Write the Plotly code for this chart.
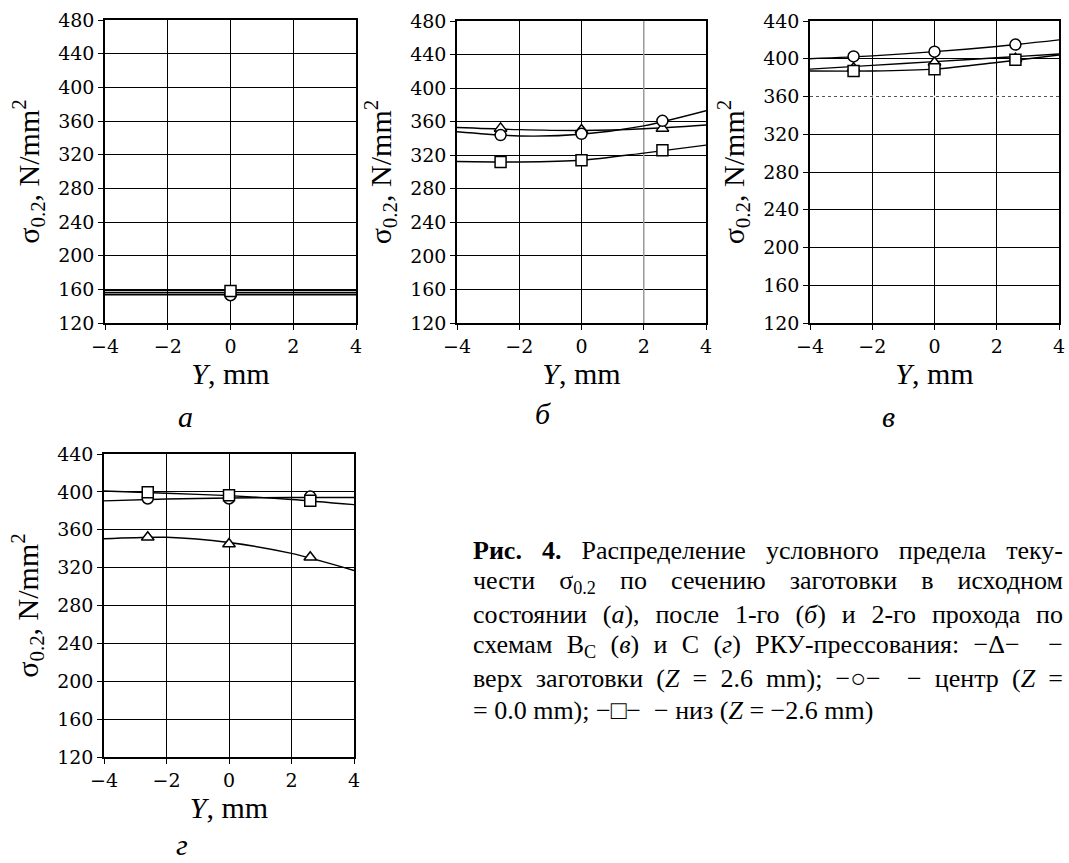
import plotly.graph_objects as go

W, H = 1069, 863

# ---- data ----
X_PTS = [-2.6, 0.0, 2.6]
X_LINE = [-4, -2, 0, 2, 4]

# panel а (initial state): only the centre section measured
a_x = [0.0]
a_top_pts = [156]
a_cen_pts = [153]
a_bot_pts = [158]
a_top_line = [156, 156, 156, 156, 156]
a_cen_line = [153.5, 153.5, 153.5, 153.5, 153.5]
a_bot_line = [158.5, 158.5, 158.5, 158.5, 158.5]

# panel б (1 pass)
b_top_pts = [352, 350, 352]
b_cen_pts = [344, 345.5, 361]
b_bot_pts = [312, 314, 326]
b_top_line = [353, 350.5, 349.5, 351.5, 356]
b_cen_line = [348, 343, 345, 355, 373]
b_bot_line = [312.5, 312, 314, 322.5, 332]

# panel в (2 passes, route Bc)
v_top_pts = [390, 396, 400]
v_cen_pts = [402.5, 407.5, 415]
v_bot_pts = [387, 389, 399]
v_top_line = [389, 393, 397, 401, 405]
v_cen_line = [400, 403, 407.5, 413, 420]
v_bot_line = [387, 387, 389, 396, 404]

# panel г (2 passes, route C)
g_top_pts = [352, 345, 331]
g_cen_pts = [393, 393, 395]
g_bot_pts = [399.5, 396.5, 390.5]
g_top_line = [350.5, 352, 346.5, 335, 317]
g_cen_line = [390.5, 392.5, 393.5, 394, 394]
g_bot_line = [401, 398.5, 396, 392, 386.5]

X_TICKS = [-4, -2, 0, 2, 4]
Y_TICKS_480 = [120, 160, 200, 240, 280, 320, 360, 400, 440, 480]
Y_TICKS_440 = [120, 160, 200, 240, 280, 320, 360, 400, 440]

FONT = "Liberation Serif, Times New Roman, serif"
TICKFONT = "DejaVu Serif, serif"

# panel boxes in pixels: (left, right, top, bottom)
boxes = {
    1: (105, 356, 20, 323),
    2: (457, 706, 21, 323),
    3: (810, 1059, 21, 323),
    4: (104, 354, 454, 757),
}

fig = go.Figure()

panels = [
    (1, a_x, a_top_pts, a_cen_pts, a_bot_pts, a_top_line, a_cen_line, a_bot_line),
    (2, X_PTS, b_top_pts, b_cen_pts, b_bot_pts, b_top_line, b_cen_line, b_bot_line),
    (3, X_PTS, v_top_pts, v_cen_pts, v_bot_pts, v_top_line, v_cen_line, v_bot_line),
    (4, X_PTS, g_top_pts, g_cen_pts, g_bot_pts, g_top_line, g_cen_line, g_bot_line),
]

symbols = ["triangle-up", "circle", "square"]

for (k, xp, tp, cp, bp, tl, cl, bl) in panels:
    xa = "x" if k == 1 else f"x{k}"
    ya = "y" if k == 1 else f"y{k}"
    for pts, line, sym in zip([tp, cp, bp], [tl, cl, bl], symbols):
        fig.add_trace(go.Scatter(
            x=X_LINE, y=line, mode="lines", xaxis=xa, yaxis=ya,
            line=dict(color="black", width=1.4, shape="spline", smoothing=0.8),
            showlegend=False, hoverinfo="skip"))
        fig.add_trace(go.Scatter(
            x=xp, y=pts, mode="markers", xaxis=xa, yaxis=ya,
            marker=dict(symbol=sym, size=11, color="white",
                        line=dict(color="black", width=1.5)),
            showlegend=False))

def xaxis_cfg(k):
    l, r, t, b = boxes[k]
    return dict(
        domain=[l / W, r / W], anchor=("y" if k == 1 else f"y{k}"),
        range=[-4, 4], tickvals=X_TICKS, showline=True, linecolor="black",
        linewidth=1.5, mirror=True, ticks="outside", ticklen=5, tickcolor="black",
        showgrid=True, gridcolor="black", gridwidth=1, zeroline=False,
        automargin=False,
        tickfont=dict(family=TICKFONT, size=19, color="black"),
        title=dict(text="<i>Y</i>, mm", font=dict(family=FONT, size=30, color="black"),
                   standoff=4),
        fixedrange=True,
    )

def yaxis_cfg(k, top):
    l, r, t, b = boxes[k]
    return dict(
        domain=[1 - b / H, 1 - t / H], anchor=("x" if k == 1 else f"x{k}"),
        range=[120, top], tickvals=(Y_TICKS_480 if top == 480 else Y_TICKS_440),
        showline=True, linecolor="black", linewidth=1.5, mirror=True,
        ticks="outside", ticklen=5, tickcolor="black",
        showgrid=True, gridcolor="black", gridwidth=1, zeroline=False,
        automargin=False,
        tickfont=dict(family=TICKFONT, size=19, color="black"),
        title=dict(text="σ<sub>0.2</sub>, N/mm<sup>2</sup>",
                   font=dict(family=FONT, size=30, color="black"), standoff=10),
        fixedrange=True,
    )

layout = dict(
    template="none",
    width=W, height=H, margin=dict(l=0, r=0, t=0, b=0, autoexpand=False),
    paper_bgcolor="white", plot_bgcolor="white", showlegend=False,
    font=dict(family=FONT, color="black"),
)
tops = {1: 480, 2: 480, 3: 440, 4: 440}
for k in range(1, 5):
    sfx = "" if k == 1 else str(k)
    layout["xaxis" + sfx] = xaxis_cfg(k)
    layout["yaxis" + sfx] = yaxis_cfg(k, tops[k])
fig.update_layout(**layout)

# dotted 360 gridline in panel в
fig.add_shape(type="line", xref="x3", yref="y3", x0=-4, x1=4, y0=360, y1=360,
              line=dict(color="white", width=2), layer="between")
fig.add_shape(type="line", xref="x3", yref="y3", x0=-4, x1=4, y0=360, y1=360,
              line=dict(color="#555555", width=1, dash="dot"), layer="between")
# lighter x=2 gridline in panel б
fig.add_shape(type="line", xref="x2", yref="y2", x0=2, x1=2, y0=120, y1=480,
              line=dict(color="#9a9a9a", width=1.5), layer="between")

# panel letters
letters = [("а", 185, 416, "middle"), ("б", 543, 414, "middle"),
           ("в", 888, 416, "middle"), ("г", 182, 863, "bottom")]
for txt, px, py, ya in letters:
    fig.add_annotation(text=f"<i>{txt}</i>", x=px / W, y=1 - py / H, xref="paper",
                       yref="paper", showarrow=False, xanchor="center", yanchor=ya,
                       font=dict(family=FONT, size=30, color="black"))

# caption (justified between x=471 and x=1063, except the last line)
caption = [
    "<b>Рис. 4.</b> Распределение условного предела теку-",
    "чести σ<sub>0.2</sub> по сечению заготовки в исходном",
    "состоянии (<i>а</i>), после 1-го (<i>б</i>) и 2-го прохода по",
    "схемам B<sub>C</sub> (<i>в</i>) и С (<i>г</i>) РКУ-прессования: −Δ−\u00a0 −",
    "верх заготовки (<i>Z</i> = 2.6 mm); −○−\u00a0 − центр (<i>Z</i> =",
    "= 0.0 mm); −□−\u00a0 − низ (<i>Z</i> = −2.6 mm)",
]
cap_y = [550, 582, 614, 646, 678, 710]
for line, py in zip(caption, cap_y):
    fig.add_annotation(text=line, x=471 / W, y=1 - py / H, xref="paper", yref="paper",
                       showarrow=False, xanchor="left", yanchor="middle", align="left",
                       font=dict(family=FONT, size=26, color="black"))

justify_js = """
document.body.style.margin='0';
(function(){
  var gd = document.getElementById('{plot_id}');
  var RIGHT = 1063;
  var first = 4, last = 8;   // caption lines to justify (annotation indices)
  for (var i = first; i <= last; i++) {
    var g = gd.querySelector('g.annotation[data-index="' + i + '"]');
    if (!g) continue;
    var t = g.querySelector('text.annotation-text');
    if (!t) continue;
    var r = t.getBoundingClientRect();
    var txt = t.textContent;
    var n = (txt.match(/[ \\u00a0]/g) || []).length;
    if (n > 0 && r.right < RIGHT) {
      t.style.wordSpacing = ((RIGHT - r.right) / n) + 'px';
    }
  }
})();
"""

fig.write_html("out.html", config={"displayModeBar": False}, post_script=justify_js)
